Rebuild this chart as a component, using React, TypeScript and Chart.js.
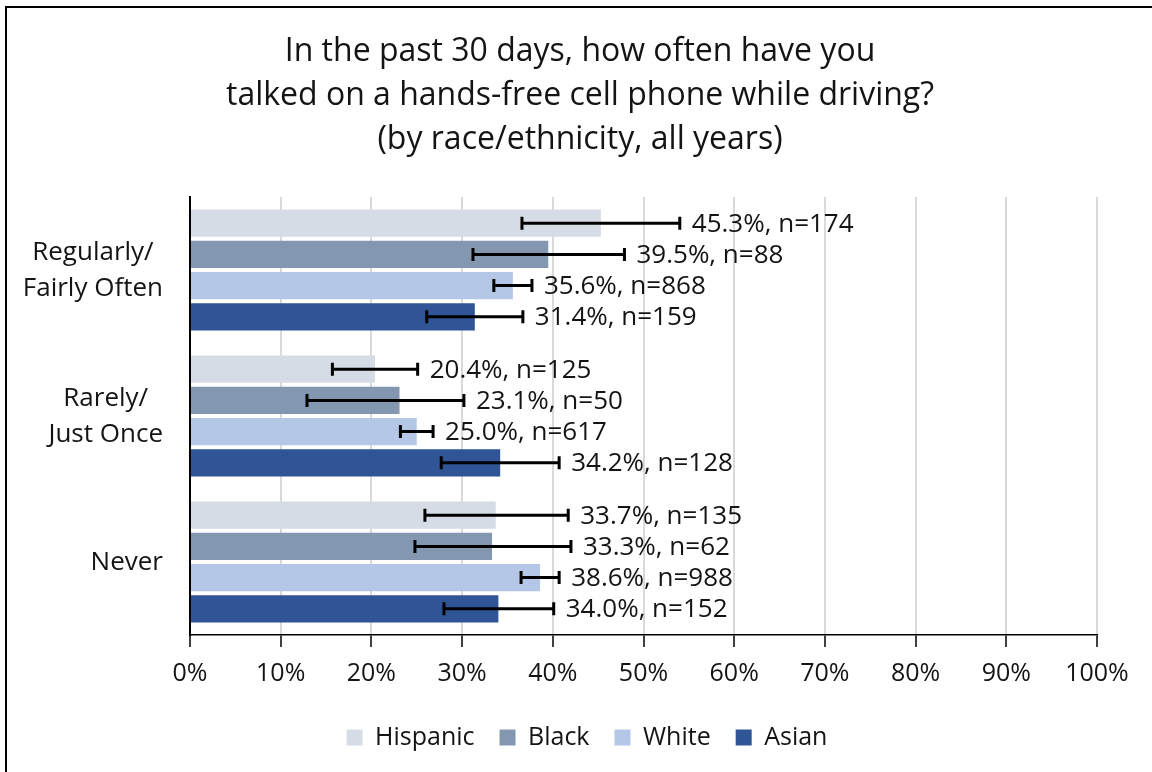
import React, { useEffect, useRef } from "react";
import { Chart, registerables } from "chart.js";

Chart.register(...registerables);

const categories: (string | string[])[] = [
  ["Regularly/", "Fairly Often"],
  ["Rarely/", "Just Once"],
  "Never",
];
const seriesNames = ["Hispanic", "Black", "White", "Asian"];
const hispanic = [45.3, 20.4, 33.7];
const black = [39.5, 23.1, 33.3];
const white = [35.6, 25.0, 38.6];
const asian = [31.4, 34.2, 34.0];
const hispanicN = [174, 125, 135];
const blackN = [88, 50, 62];
const whiteN = [868, 617, 988];
const asianN = [159, 128, 152];
const hispanicLo = [36.6, 15.7, 25.9];
const hispanicHi = [54.0, 25.1, 41.7];
const blackLo = [31.2, 12.9, 24.8];
const blackHi = [47.9, 30.2, 42.0];
const whiteLo = [33.5, 23.2, 36.5];
const whiteHi = [37.7, 26.8, 40.7];
const asianLo = [26.1, 27.7, 28.0];
const asianHi = [36.7, 40.7, 40.1];
const xTicks = [0, 10, 20, 30, 40, 50, 60, 70, 80, 90, 100];
const titleLines = [
  "In the past 30 days, how often have you",
  "talked on a hands-free cell phone while driving?",
  "(by race/ethnicity, all years)",
];

const colors = ["#d6dce5", "#8497b0", "#b4c7e7", "#2f5597"];
const values = [hispanic, black, white, asian];
const ns = [hispanicN, blackN, whiteN, asianN];
const los = [hispanicLo, blackLo, whiteLo, asianLo];
const his = [hispanicHi, blackHi, whiteHi, asianHi];

const FONT = "'Open Sans', sans-serif";
const TEXT = "#141414";

const framePlugin = {
  id: "frame",
  beforeDraw(chart: any) {
    const { ctx, width, height } = chart;
    ctx.save();
    ctx.fillStyle = "#ffffff";
    ctx.fillRect(0, 0, width, height);
    ctx.strokeStyle = "#000";
    ctx.lineWidth = 2;
    ctx.strokeRect(6, 7, width + 10, height + 10);
    ctx.restore();
  },
  afterLayout(chart: any) {
    // nudge legend slightly right, as in the original
    if (chart.legend) {
      chart.legend.left += 7;
      chart.legend.right += 7;
    }
  },
};

const categoryLabelPlugin = {
  id: "categoryLabels",
  afterDraw(chart: any) {
    const { ctx } = chart;
    const ys = chart.scales.y;
    ctx.save();
    ctx.font = `26px ${FONT}`;
    ctx.fillStyle = TEXT;
    ctx.textAlign = "center";
    ctx.textBaseline = "middle";
    const rightEdge = ys.right - 27;
    const lineH = 36;
    chart.data.labels.forEach((lab: any, i: number) => {
      const lines: string[] = Array.isArray(lab) ? lab : [lab];
      const w = Math.max(...lines.map((l) => ctx.measureText(l).width));
      const cx = rightEdge - w / 2;
      const cy = ys.getPixelForTick(i);
      lines.forEach((l, j) => {
        ctx.fillText(l, cx, cy + (j - (lines.length - 1) / 2) * lineH + 1);
      });
    });
    ctx.restore();
  },
};

const errorPlugin = {
  id: "errorbars",
  afterDatasetsDraw(chart: any) {
    const { ctx } = chart;
    const xs = chart.scales.x;
    ctx.save();
    chart.data.datasets.forEach((ds: any, di: number) => {
      const meta = chart.getDatasetMeta(di);
      meta.data.forEach((bar: any, i: number) => {
        const x0 = xs.getPixelForValue(ds.lo[i]);
        const x1 = xs.getPixelForValue(ds.hi[i]);
        const y = bar.y;
        ctx.strokeStyle = "#000";
        ctx.lineWidth = 3;
        ctx.beginPath();
        ctx.moveTo(x0, y);
        ctx.lineTo(x1, y);
        ctx.moveTo(x0, y - 6.5);
        ctx.lineTo(x0, y + 6.5);
        ctx.moveTo(x1, y - 6.5);
        ctx.lineTo(x1, y + 6.5);
        ctx.stroke();
        ctx.fillStyle = TEXT;
        ctx.font = `26px ${FONT}`;
        ctx.textAlign = "left";
        ctx.textBaseline = "middle";
        ctx.fillText(`${ds.data[i].toFixed(1)}%, n=${ds.n[i]}`, x1 + 12, y + 1);
      });
    });
    ctx.restore();
  },
};

export default function App() {
  const ref = useRef<HTMLCanvasElement | null>(null);
  useEffect(() => {
    document.body.style.margin = "0";
    const canvas = ref.current!;
    const chart = new Chart(canvas, {
      type: "bar",
      data: {
        labels: categories as any,
        datasets: seriesNames.map((name, k) => ({
          label: name,
          data: values[k],
          n: ns[k],
          lo: los[k],
          hi: his[k],
          backgroundColor: colors[k],
          borderWidth: 0,
          categoryPercentage: 0.855,
          barPercentage: 0.87,
        })) as any,
      },
      options: {
        indexAxis: "y",
        animation: false,
        responsive: false,
        maintainAspectRatio: false,
        layout: { padding: { top: 20, right: 0, left: 8, bottom: 12 } },
        scales: {
          x: {
            min: 0,
            max: 100,
            afterBuildTicks(scale: any) {
              scale.ticks = xTicks.map((v) => ({ value: v }));
            },
            afterFit(scale: any) {
              scale.height = 65;
            },
            ticks: {
              callback: (v: any) => `${v}%`,
              font: { family: FONT, size: 25 },
              color: TEXT,
              padding: 12,
              maxRotation: 0,
            },
            grid: {
              color: "#d9d9d9",
              lineWidth: 2,
              tickColor: "#000",
              tickLength: 12,
              tickWidth: 1.5,
            },
            border: { color: "#000", width: 1.5 },
          },
          y: {
            afterFit(scale: any) {
              scale.width = 182;
            },
            ticks: { display: false },
            grid: { display: false, drawTicks: false },
            border: { color: "#000", width: 2 },
          },
          spacer: {
            type: "linear",
            position: "right",
            display: true,
            afterFit(scale: any) {
              scale.width = 55;
            },
            ticks: { display: false },
            grid: { display: false, drawTicks: false },
            border: { display: false },
          },
        },
        plugins: {
          title: {
            display: true,
            text: titleLines,
            color: TEXT,
            font: { family: FONT, size: 32, weight: "normal", lineHeight: 1.375 },
            padding: { top: 9.5, bottom: 35.5 },
          },
          legend: {
            position: "bottom",
            labels: {
              font: { family: FONT, size: 25 },
              color: TEXT,
              boxWidth: 16,
              boxHeight: 16,
              padding: 25,
            },
          },
          tooltip: { enabled: false },
        },
      },
      plugins: [framePlugin, errorPlugin, categoryLabelPlugin],
    } as any);
    return () => chart.destroy();
  }, []);
  return (
    <div style={{ position: "fixed", left: 0, top: 0, width: 1152, height: 772 }}>
      <canvas ref={ref} width={1152} height={772} style={{ display: "block" }} />
    </div>
  );
}
